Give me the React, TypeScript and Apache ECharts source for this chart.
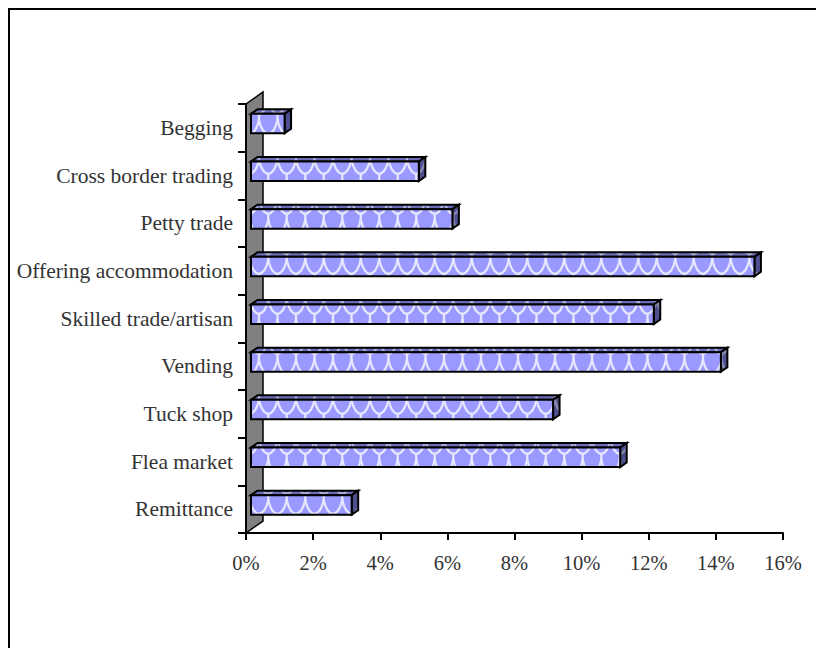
import React, { useEffect, useRef } from "react";
import * as echarts from "echarts";

const categories = ["Remittance", "Flea market", "Tuck shop", "Vending", "Skilled trade/artisan", "Offering accommodation", "Petty trade", "Cross border trading", "Begging"];
const shares = [3, 11, 9, 14, 12, 15, 6, 5, 1];
const xTicks = { min: 0, max: 16, interval: 2 };

const FONT = "'Liberation Serif', serif";

function tile(bg: string, line: string) {
  const c = document.createElement("canvas");
  c.width = 37;
  c.height = 40;
  const g = c.getContext("2d")!;
  g.fillStyle = bg;
  g.fillRect(0, 0, 37, 40);
  g.strokeStyle = line;
  g.lineWidth = 2.3;
  g.lineCap = "round";
  const rows = [
    [0, 0],
    [20, 9.25],
    [40, 0],
  ];
  for (const [y, off] of rows) {
    for (let k = -1; k < 3; k++) {
      const x = off + k * 18.5;
      g.beginPath();
      g.moveTo(x, y);
      g.bezierCurveTo(x + 1.5, y + 7, x + 4, y + 13, x + 9.25, y + 14);
      g.bezierCurveTo(x + 14, y + 13, x + 17, y + 7, x + 18.5, y);
      g.stroke();
      g.beginPath();
      g.moveTo(x + 9.25, y + 14);
      g.lineTo(x + 9.25, y + 20);
      g.stroke();
    }
  }
  return c;
}

export default function App() {
  const ref = useRef<HTMLDivElement>(null);
  useEffect(() => {
    const chart = echarts.init(ref.current!, undefined, { renderer: "svg" });
    const front = { image: tile("#9999ff", "#e6e6ff"), repeat: "repeat" };
    const top = { image: tile("#6b6bb8", "#b0b0d8"), repeat: "repeat" };
    const side = { image: tile("#4f4f8f", "#8a8ab0"), repeat: "repeat" };
    const line = { stroke: "#000", lineWidth: 2, lineJoin: "miter" };
    chart.setOption({
      animation: false,
      backgroundColor: "#fff",
      grid: { left: 246, right: 33, top: 104, bottom: 115, containLabel: false },
      xAxis: {
        type: "value",
        min: xTicks.min,
        max: xTicks.max,
        interval: xTicks.interval,
        splitLine: { show: false },
        axisLine: { show: true, lineStyle: { color: "#000", width: 2 } },
        axisTick: { show: true, length: 7, lineStyle: { color: "#000", width: 2 } },
        axisLabel: { formatter: "{value}%", margin: 19, fontFamily: FONT, fontSize: 20.5, color: "#333" },
      },
      yAxis: {
        type: "category",
        data: categories,
        axisLine: { show: true, lineStyle: { color: "#000", width: 2 } },
        axisTick: { show: true, length: 8, lineStyle: { color: "#000", width: 2 } },
        axisLabel: { margin: 13, fontFamily: FONT, fontSize: 21.5, color: "#333", verticalAlign: "middle", lineHeight: 21, padding: [0, 0, 6, 0] },
      },
      graphic: [
        { type: "polyline", z: 10, shape: { points: [[9, 648], [9, 9], [816, 9]] }, style: { fill: "none", stroke: "#000", lineWidth: 2 } },
        { type: "polygon", z: -1, shape: { points: [[246, 104], [263, 92], [263, 521], [246, 533]] }, style: { fill: "#808080", stroke: "#000", lineWidth: 1.5 } },
      ],
      series: [
        {
          type: "custom",
          coordinateSystem: "cartesian2d",
          encode: { x: 0, y: 1 },
          data: shares.map((v, i) => [v, i]),
          clip: false,
          renderItem: (_p: any, api: any) => {
            const [x0, cy] = api.coord([0, api.value(1)]);
            const [x1] = api.coord([api.value(0), api.value(1)]);
            const l = x0 + 5, r = x1 + 5, t = cy - 14, b = cy + 5.5, dx = 6.5, dy = 4.5;
            return {
              type: "group",
              children: [
                { type: "polygon", shape: { points: [[l, t], [l + dx, t - dy], [r + dx, t - dy], [r, t]] }, style: { fill: top, ...line } },
                { type: "polygon", shape: { points: [[r, t], [r + dx, t - dy], [r + dx, b - dy], [r, b]] }, style: { fill: side, ...line } },
                { type: "rect", shape: { x: l, y: t, width: r - l, height: b - t }, style: { fill: front, ...line } },
              ],
            };
          },
        },
      ],
    });
    return () => chart.dispose();
  }, []);
  return <div ref={ref} style={{ position: "fixed", left: 0, top: 0, width: 816, height: 648 }} />;
}
